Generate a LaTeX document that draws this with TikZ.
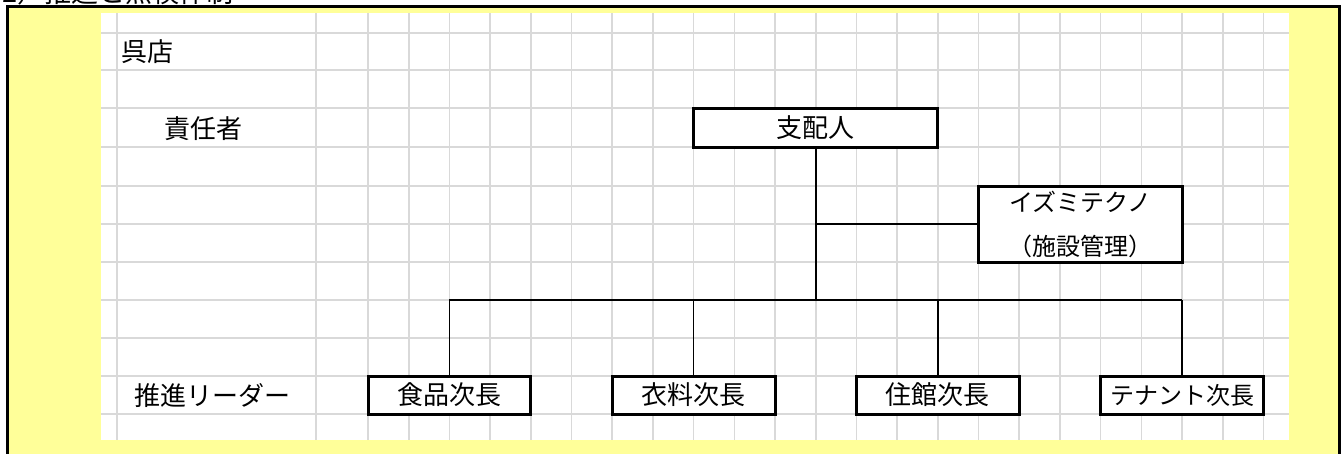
\documentclass[tikz,border=0pt]{standalone}
\usepackage{fontspec}
\setmainfont{Noto Sans CJK JP}
\definecolor{paleyellow}{HTML}{FFFF99}
\definecolor{gridgray}{HTML}{D9D9D9}
\tikzset{
  gridline/.style={draw=gridgray, line width=1.6pt},
  boxnode/.style={draw=black, line width=3pt, fill=white, inner sep=0pt, font=\fontsize{26}{30}\selectfont},
  conn/.style={draw=black, line width=1.6pt},
  label/.style={inner sep=0pt, font=\fontsize{26}{30}\selectfont}
}
\begin{document}
\begin{tikzpicture}[x=1pt, y=-1pt]
\useasboundingbox (0,0) rectangle (1344,453);
% frame and background
\fill[white] (0,0) rectangle (1344,453);
\draw[line width=3.5pt, fill=paleyellow] (7.5,6.5) rectangle (1339.5,470);
\fill[white] (101,13) rectangle (1289,440);
% grid
\foreach \y in {33,70,108,147,186,224,262,300,338,376,414}
  \draw[gridline] (101,\y) -- (1289,\y);
\foreach \x in {117,316}
  \draw[gridline] (\x,13) -- (\x,440);
\foreach \k in {0,...,22}
  \draw[gridline] ({368+40.7*\k},13) -- ({368+40.7*\k},440);
% title (cut off at top)
\node[anchor=base west, inner sep=0pt, font=\fontsize{27}{30}\selectfont] (title) at (2,2) {2）推進と点検体制};
% row labels
\node[label, anchor=west] (kureten) at (121,52) {呉店};
\node[label, anchor=west] (sekinin) at (164,129) {責任者};
\node[label, anchor=west] (suishin) at (134,396) {推進リーダー};
% boxes
\node[boxnode, minimum width=244.2pt, minimum height=39pt] (shihai) at (815.7,127.5) {支配人};
\node[boxnode, minimum width=203.5pt, minimum height=76pt, align=center, font=\fontsize{24}{44}\selectfont] (izumi) at (1080.25,224) {イズミテクノ\\（施設管理）};
\node[boxnode, minimum width=162.8pt, minimum height=38pt] (shoku) at (449.4,395) {食品次長};
\node[boxnode, minimum width=162.8pt, minimum height=38pt] (iryo) at (693.6,395) {衣料次長};
\node[boxnode, minimum width=162.8pt, minimum height=38pt] (jukan) at (937.8,395) {住館次長};
\node[boxnode, minimum width=162.8pt, minimum height=38pt, font=\fontsize{24}{30}\selectfont] (tenant) at (1182,395) {テナント次長};
% connectors
\coordinate (busM) at (815.7,300);
\coordinate (busL) at (449.4,300);
\coordinate (busR) at (1182,300);
\draw[conn] (shihai.south) -- (busM);
\draw[conn] (shihai.south |- izumi.west) -- (izumi.west);
\draw[conn] (busL) -- (busR);
\draw[conn] (busL) -- (shoku.north);
\draw[conn] (iryo.north |- busM) -- (iryo.north);
\draw[conn] (jukan.north |- busM) -- (jukan.north);
\draw[conn] (busR) -- (tenant.north);
\end{tikzpicture}
\end{document}
